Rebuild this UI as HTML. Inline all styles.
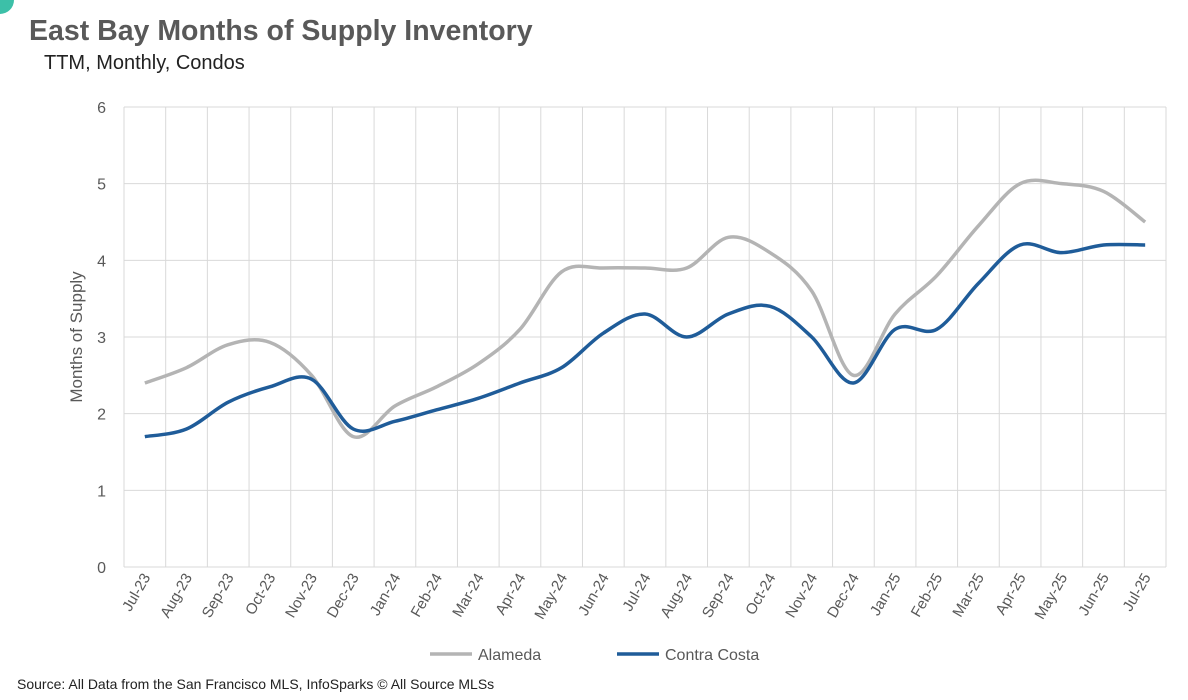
<!DOCTYPE html>
<html><head><meta charset="utf-8"><style>
body{margin:0;width:1188px;height:700px;background:#fff;overflow:hidden;font-family:"Liberation Sans",sans-serif;position:relative}
</style></head><body>
<div style="position:absolute;left:-14px;top:-14px;width:28px;height:28px;border-radius:50%;background:#3cc0a8"></div>
<div style="position:absolute;left:29px;top:15px;font-size:28.5px;font-weight:bold;color:#595959">East Bay Months of Supply Inventory</div>
<div style="position:absolute;left:44px;top:52px;font-size:20px;color:#222">TTM, Monthly, Condos</div>
<svg id="chart" width="1188" height="700" style="position:absolute;left:0;top:0"></svg>
<div style="position:absolute;left:17px;top:676px;font-size:14px;color:#222">Source: All Data from the San Francisco MLS, InfoSparks © All Source MLSs</div>
<script>
const categories=["Jul-23","Aug-23","Sep-23","Oct-23","Nov-23","Dec-23","Jan-24","Feb-24","Mar-24","Apr-24","May-24","Jun-24","Jul-24","Aug-24","Sep-24","Oct-24","Nov-24","Dec-24","Jan-25","Feb-25","Mar-25","Apr-25","May-25","Jun-25","Jul-25"];
const alameda=[2.4,2.6,2.9,2.93,2.5,1.7,2.1,2.35,2.65,3.1,3.85,3.9,3.9,3.9,4.3,4.1,3.6,2.5,3.3,3.8,4.45,5.0,5.0,4.9,4.5];
const contra=[1.7,1.8,2.15,2.35,2.45,1.8,1.9,2.05,2.2,2.4,2.6,3.05,3.3,3.0,3.3,3.4,3.0,2.4,3.1,3.1,3.7,4.2,4.1,4.2,4.2];
const yTicks=[0,1,2,3,4,5,6];
const svg=document.getElementById('chart');const NS='http://www.w3.org/2000/svg';
const L=124,R=1166,T=107,B=567;const bw=(R-L)/categories.length;
const x=i=>L+bw*(i+0.5);const y=v=>B-(B-T)*v/6;
function mk(t,a){const e=document.createElementNS(NS,t);for(const k in a)e.setAttribute(k,a[k]);svg.appendChild(e);return e;}
yTicks.forEach(v=>{const g=mk('line',{x1:L,x2:R,y1:y(v),y2:y(v),stroke:'#d9d9d9','stroke-width':1});


const t=mk('text',{x:L-18,y:y(v)+6,'text-anchor':'end','font-size':16,fill:'#595959'});t.textContent=v;

});
for(let i=0;i<=categories.length;i++){const g=mk('line',{x1:L+bw*i,x2:L+bw*i,y1:T,y2:B,stroke:'#d9d9d9','stroke-width':1});

}
categories.forEach((c,i)=>{const t=mk('text',{transform:`translate(${x(i)+6},${B+10}) rotate(-60)`,'text-anchor':'end','font-size':15,fill:'#595959'});t.textContent=c;

});
const yt=mk('text',{transform:`translate(82,${(T+B)/2}) rotate(-90)`,'text-anchor':'middle','font-size':17,fill:'#595959'});yt.textContent='Months of Supply';


function path(d){const p=d.map((v,i)=>[x(i),y(v)]);let s=`M${p[0][0]},${p[0][1]}`;const k=1/6;
for(let i=0;i<p.length-1;i++){const p0=p[i-1]||p[i],p1=p[i],p2=p[i+1],p3=p[i+2]||p2;
s+=`C${p1[0]+(p2[0]-p0[0])*k},${p1[1]+(p2[1]-p0[1])*k} ${p2[0]-(p3[0]-p1[0])*k},${p2[1]-(p3[1]-p1[1])*k} ${p2[0]},${p2[1]}`;}return s;}
const a=mk('path',{d:path(alameda),fill:'none',stroke:'#b4b4b4','stroke-width':3.5});


const c=mk('path',{d:path(contra),fill:'none',stroke:'#1f5c99','stroke-width':3.5});


[['Alameda','#b4b4b4',430],['Contra Costa','#1f5c99',617]].forEach(([n,col,lx])=>{
const l=mk('line',{x1:lx,x2:lx+42,y1:654,y2:654,stroke:col,'stroke-width':3.5});


const t=mk('text',{x:lx+48,y:660,'font-size':16,fill:'#595959'});t.textContent=n;

});
</script>
</body></html>
